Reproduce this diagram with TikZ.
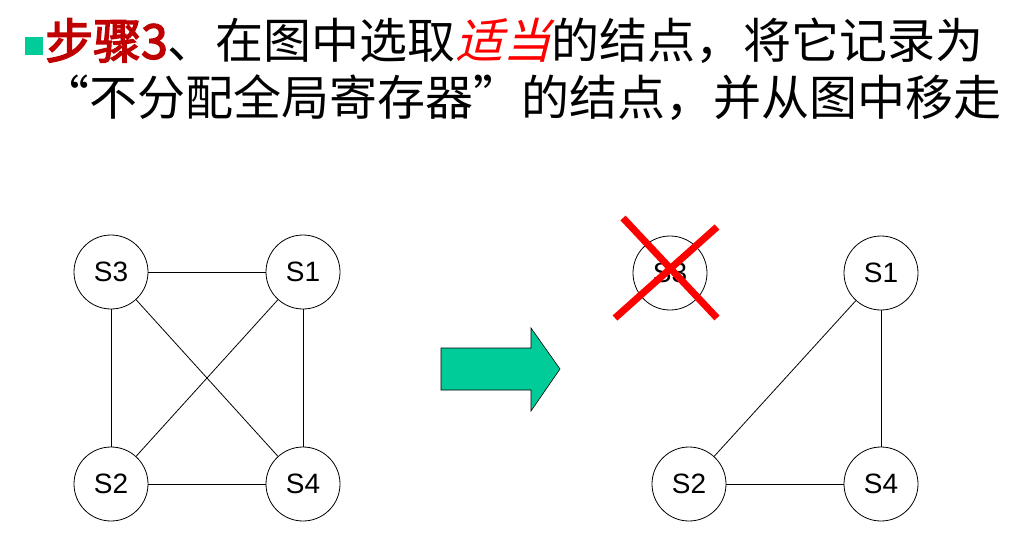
\documentclass[tikz,border=0pt]{standalone}
\usepackage{fontspec}
\setmainfont{Liberation Sans}
\newfontfamily\cjk{Noto Sans CJK SC}
\newfontfamily\cjkbf[FakeBold=3]{Noto Sans CJK SC}
\newfontfamily\cjkit[FakeSlant=0.25]{Noto Sans CJK SC}
\definecolor{stepred}{RGB}{192,0,0}
\definecolor{mint}{RGB}{0,204,153}
\tikzset{
  vtx/.style={circle, draw, line width=0.8pt, minimum size=74pt, inner sep=0pt,
    font=\fontsize{28}{28}\selectfont},
  edge/.style={line width=0.8pt},
  heading/.style={anchor=west, inner sep=0pt, font=\cjk\fontsize{48}{58}\selectfont}
}
\begin{document}
\begin{tikzpicture}[x=1pt, y=-1pt]
    \useasboundingbox (0,0) rectangle (1036,544);

    % title
    \node (bullet) [fill=mint, minimum size=18pt, inner sep=0pt] at (34,46) {};
    \node (title1) [heading] at (45,41)
        {{\color{stepred}\cjkbf 步骤3}、在图中选取{\color{red}\cjkit 适当}的结点，将它记录为};
    \node (title2) [heading] at (41,98) {“不分配全局寄存器”的结点，并从图中移走};

    % graph before
    \foreach \n/\x/\y/\l in {a3/111/272/S3, a1/303/272/S1, a2/111/484/S2, a4/303/484/S4}
        \node (\n) [vtx] at (\x,\y) {\l};
    \foreach \u/\v in {a3/a1, a3/a2, a3/a4, a1/a2, a1/a4, a2/a4}
        \draw[edge] (\u) -- (\v);

    % arrow
    \filldraw[fill=mint, line width=0.6pt]
        (441,348) -- (531,348) -- (531,328) -- (560,369) -- (531,411) -- (531,390) -- (441,390) -- cycle;

    % graph after
    \foreach \n/\x/\y/\l in {b3/670/273/S3, b1/881/273/S1, b2/689/484/S2, b4/881/484/S4}
        \node (\n) [vtx] at (\x,\y) {\l};
    \foreach \u/\v in {b1/b2, b1/b4, b2/b4}
        \draw[edge] (\u) -- (\v);

    % S3 crossed out
    \draw[red, line width=7pt] (b3) ++(-47,-55) -- ++(94,100);
    \draw[red, line width=7pt] (b3) ++(47,-46) -- ++(-102,91);
\end{tikzpicture}
\end{document}
